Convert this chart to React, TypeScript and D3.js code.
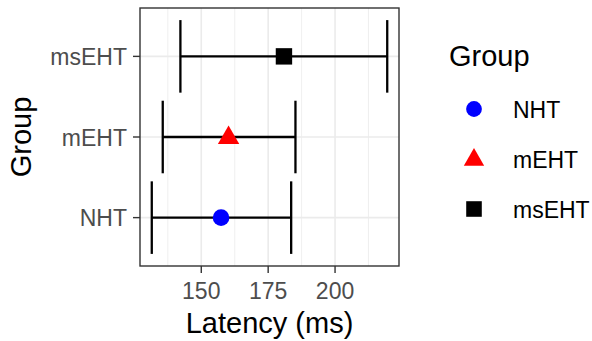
import React from "react";
import * as d3 from "d3";

const groups = ["NHT", "mEHT", "msEHT"];
const means = [157.4, 160.2, 180.9];
const lowers = [131.5, 135.6, 142.2];
const uppers = [183.6, 185.2, 219.5];
const colors = ["#0000FF", "#FF0000", "#000000"];
const shapes = ["circle", "triangle", "square"];
const xTicks = [150, 175, 200];
const xMinor = [137.5, 162.5, 187.5, 212.5];

const W = 592;
const H = 341;
const panel = { left: 140, right: 399, top: 8, bottom: 266 };
const FONT = "'Liberation Sans', Arial, Helvetica, sans-serif";

function Shape({ kind, x, y, color, s = 1 }: { kind: string; x: number; y: number; color: string; s?: number }) {
  if (kind === "circle") return <circle cx={x} cy={y} r={8.3 * s} fill={color} />;
  if (kind === "square") {
    const h = 8.2 * s;
    return <rect x={x - h} y={y - h} width={2 * h} height={2 * h} fill={color} />;
  }
  const w = 10.7 * s;
  const top = 11.5 * s;
  const bot = 7 * s;
  return <path d={`M${x},${y - top}L${x + w},${y + bot}L${x - w},${y + bot}Z`} fill={color} />;
}

export default function App() {
  const lo = d3.min(lowers)!;
  const hi = d3.max(uppers)!;
  const pad = (hi - lo) * 0.05;
  const x = d3.scaleLinear().domain([lo - pad, hi + pad]).range([panel.left, panel.right]);
  const y = d3.scalePoint<string>().domain(groups).range([panel.bottom, panel.top]).padding(0.6);
  const capH = y.step() * 0.9;

  return (
    <svg width={W} height={H} style={{ position: "absolute", left: 0, top: 0, background: "#fff" }} fontFamily={FONT}>
      <rect x={0} y={0} width={W} height={H} fill="#fff" />
      {xMinor.map((v) => (
        <line key={"mn" + v} x1={x(v)} x2={x(v)} y1={panel.top} y2={panel.bottom} stroke="#EBEBEB" strokeWidth={0.8} />
      ))}
      {xTicks.map((v) => (
        <line key={"mj" + v} x1={x(v)} x2={x(v)} y1={panel.top} y2={panel.bottom} stroke="#EBEBEB" strokeWidth={1.6} />
      ))}
      {groups.map((g) => (
        <line key={"gy" + g} x1={panel.left} x2={panel.right} y1={y(g)} y2={y(g)} stroke="#EBEBEB" strokeWidth={1.6} />
      ))}
      {groups.map((g, i) => {
        const yy = y(g)!;
        return (
          <g key={"eb" + g} stroke="#000" strokeWidth={2.3}>
            <line x1={x(lowers[i])} x2={x(uppers[i])} y1={yy} y2={yy} />
            <line x1={x(lowers[i])} x2={x(lowers[i])} y1={yy - capH / 2} y2={yy + capH / 2} />
            <line x1={x(uppers[i])} x2={x(uppers[i])} y1={yy - capH / 2} y2={yy + capH / 2} />
          </g>
        );
      })}
      {groups.map((g, i) => (
        <Shape key={"pt" + g} kind={shapes[i]} x={x(means[i])} y={y(g)!} color={colors[i]} />
      ))}
      <rect x={panel.left} y={panel.top} width={panel.right - panel.left} height={panel.bottom - panel.top} fill="none" stroke="#333333" strokeWidth={1.4} />
      {xTicks.map((v) => (
        <g key={"xt" + v}>
          <line x1={x(v)} x2={x(v)} y1={panel.bottom} y2={panel.bottom + 7} stroke="#333333" strokeWidth={1.4} />
          <text x={x(v)} y={299} textAnchor="middle" fontSize={23} fill="#4D4D4D">{v}</text>
        </g>
      ))}
      {groups.map((g) => (
        <g key={"yt" + g}>
          <line x1={panel.left - 7} x2={panel.left} y1={y(g)} y2={y(g)} stroke="#333333" strokeWidth={1.4} />
          <text x={127} y={y(g)! + 8.5} textAnchor="end" fontSize={23} fill="#4D4D4D">{g}</text>
        </g>
      ))}
      <text x={(panel.left + panel.right) / 2} y={333} textAnchor="middle" fontSize={29} fill="#000">Latency (ms)</text>
      <text transform={`translate(31,${(panel.top + panel.bottom) / 2}) rotate(-90)`} textAnchor="middle" fontSize={29} fill="#000">Group</text>
      <text x={449} y={66} fontSize={29} fill="#000">Group</text>
      {groups.map((g, i) => {
        const ly = 109 + i * 50;
        return (
          <g key={"lg" + g}>
            <Shape kind={shapes[i]} x={474} y={ly} color={colors[i]} s={0.95} />
            <text x={513} y={ly + 8.5} fontSize={23} fill="#000">{g}</text>
          </g>
        );
      })}
    </svg>
  );
}
